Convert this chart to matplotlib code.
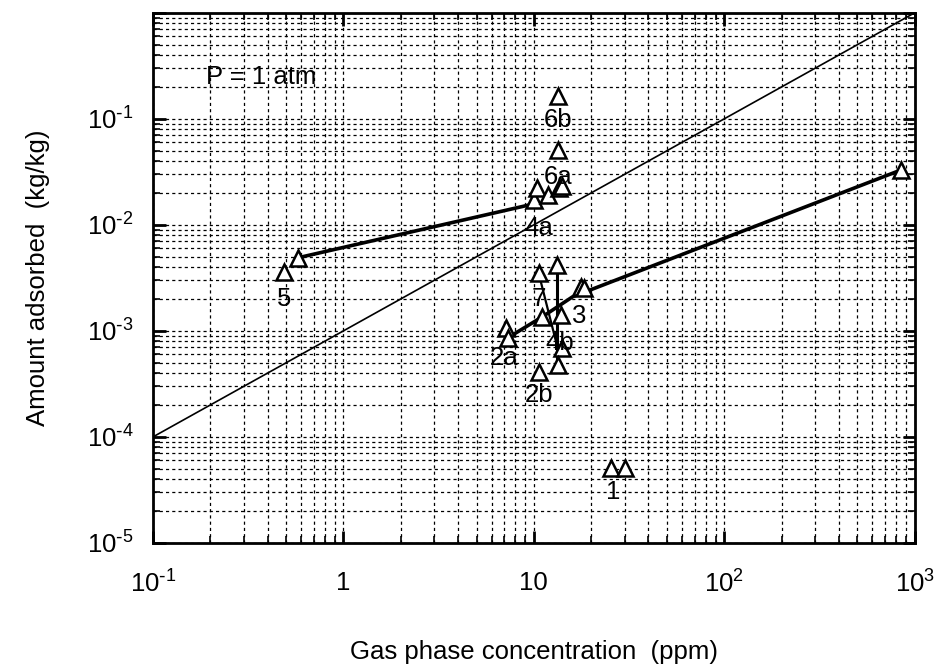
import numpy as np
import matplotlib.pyplot as plt
from matplotlib.ticker import LogLocator, FixedLocator, NullFormatter

plt.rcParams['font.family'] = ['Liberation Sans', 'DejaVu Sans']
plt.rcParams['mathtext.default'] = 'regular'

# measured points (ppm, kg/kg)
conc = [0.49, 0.58,
        10.0, 10.4, 11.9, 13.5, 14.1, 13.4, 13.4,
        7.1, 7.3, 10.6, 11.1, 13.2, 13.9, 14.1, 13.4, 10.7, 17.6, 18.3,
        25.4, 30.0, 850]
amount = [0.0036, 0.0049,
          0.0172, 0.0223, 0.0192, 0.0223, 0.0233, 0.051, 0.165,
          0.00107, 0.00086, 0.0035, 0.00136, 0.0042, 0.00142, 0.00069, 0.00048, 0.00041, 0.0026, 0.00255,
          5.1e-5, 5.1e-5, 0.033]

# connecting curves
line5_x = [0.58, 9.6]
line5_y = [0.0049, 0.0155]
line2_x = [7.3, 11.1, 16.0, 850]
line2_y = [0.00086, 0.00136, 0.0021, 0.033]
vert_x = [13.3, 13.3]
vert_y = [0.0042, 0.00048]
line7_x = [10.6, 13.6]
line7_y = [0.0035, 0.0006]

# reference line y = 1e-3 * x
ref_x = np.array([0.1, 1000])
ref_y = 1e-3 * ref_x

# point labels
lab_text = ['5', '4a', '6a', '6b', '7', '3', '4b', '2a', '2b', '1']
lab_x = [0.49, 10.6, 13.4, 13.4, 10.6, 17.2, 13.6, 7.0, 10.7, 26.0]
lab_y = [0.0020, 0.0094, 0.028, 0.098, 0.0020, 0.00138, 0.00077, 0.00056, 0.00025, 3.0e-5]

FS = 18.5

fig = plt.figure(figsize=(9.44, 6.72), dpi=100)
ax = fig.add_axes([0.162, 0.192, 0.807, 0.789])
ax.set_xscale('log')
ax.set_yscale('log')
ax.set_xlim(0.1, 1000)
ax.set_ylim(1e-5, 1)

ax.plot(ref_x, ref_y, color='black', lw=1.2)
ax.plot(line5_x, line5_y, color='black', lw=2.6)
ax.plot(line2_x, line2_y, color='black', lw=2.6)
ax.plot(vert_x, vert_y, color='black', lw=2.2)
ax.plot(line7_x, line7_y, color='black', lw=1.6)
ax.plot(conc, amount, linestyle='none', marker='^', markersize=11,
        markerfacecolor='white', markeredgecolor='black', markeredgewidth=1.8)

for t, x, y in zip(lab_text, lab_x, lab_y):
    ax.text(x, y, t, fontsize=FS, ha='center', va='center')

ax.text(0.19, 0.25, 'P = 1 atm', fontsize=FS, ha='left', va='center')

ax.xaxis.set_major_locator(FixedLocator([0.1, 1, 10, 100, 1000]))
ax.set_xticklabels([r'$10^{\text{-}1}$', '1', '10', '$10^{2}$', '$10^{3}$'])
ax.yaxis.set_major_locator(FixedLocator([1e-5, 1e-4, 1e-3, 1e-2, 1e-1, 1]))
ax.set_yticklabels([r'$10^{\text{-}5}$', r'$10^{\text{-}4}$', r'$10^{\text{-}3}$',
                    r'$10^{\text{-}2}$', r'$10^{\text{-}1}$', ''])
ax.xaxis.set_minor_locator(LogLocator(base=10, subs=np.arange(2, 10), numticks=20))
ax.yaxis.set_minor_locator(LogLocator(base=10, subs=np.arange(2, 10), numticks=20))
ax.xaxis.set_minor_formatter(NullFormatter())
ax.yaxis.set_minor_formatter(NullFormatter())

ax.grid(which='both', color='black', linestyle=(0, (2.5, 2.5)), linewidth=0.9)
ax.tick_params(which='both', direction='in', top=True, right=True, labelsize=FS)
ax.tick_params(which='major', length=9, width=2)
ax.tick_params(which='minor', length=5, width=1.2)
ax.tick_params(axis='x', pad=20)
ax.tick_params(axis='y', pad=14)
for s in ax.spines.values():
    s.set_linewidth(2)

ax.set_xlabel('Gas phase concentration  (ppm)', fontsize=FS, labelpad=30)
ax.set_ylabel('Amount adsorbed  (kg/kg)', fontsize=FS, labelpad=26)

fig.savefig('out.png', dpi=100)
